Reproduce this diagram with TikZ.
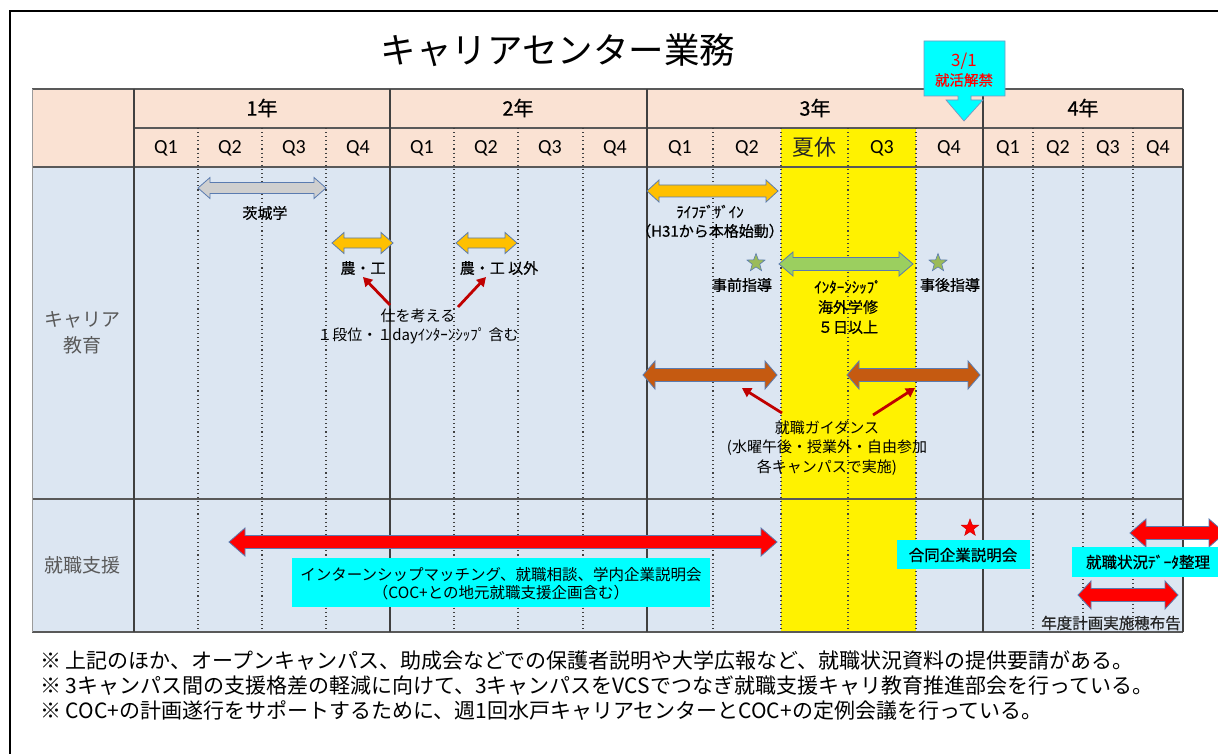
\documentclass[tikz,border=0pt]{standalone}
\usepackage{fontspec}
\setmainfont{Noto Sans CJK JP}
\newfontfamily\calfont{Carlito}
\newfontfamily\jpbold{Noto Sans CJK JP}[FakeBold=0.6]
\usetikzlibrary{shapes.geometric,arrows.meta}
\definecolor{peach}{HTML}{FAE2D3}
\definecolor{paleblue}{HTML}{DCE6F2}
\definecolor{gridc}{HTML}{595959}
\definecolor{dotc}{HTML}{404040}
\definecolor{arrowedge}{HTML}{5A7BB0}
\definecolor{orangeA}{HTML}{FFC000}
\definecolor{greenA}{HTML}{9BCF5F}
\definecolor{brownA}{HTML}{C55A11}
\definecolor{grayA}{HTML}{CFCFCF}
\definecolor{darkred}{HTML}{C00000}
\definecolor{cyanA}{HTML}{00FFFF}
\definecolor{starg}{HTML}{9BBB59}
\definecolor{labelgray}{HTML}{595959}
\newcommand{\blockarr}[7]{\draw[#1] (#2,#4) -- ({#2+#7},{#4-#5}) -- ({#2+#7},{#4-#6}) -- ({#3-#7},{#4-#6}) -- ({#3-#7},{#4-#5}) -- (#3,#4) -- ({#3-#7},{#4+#5}) -- ({#3-#7},{#4+#6}) -- ({#2+#7},{#4+#6}) -- ({#2+#7},{#4+#5}) -- cycle;}
\begin{document}
\begin{tikzpicture}[x=1pt,y=-1pt,
  every node/.style={inner sep=0pt,outer sep=0pt},
  hline/.style={draw=gridc,line width=1.5pt},
  vline/.style={draw=dotc,line width=1.1pt},
  dotline/.style={draw=dotc,line width=1.1pt,dash pattern=on 1.1pt off 3pt},
  blockarrow/.style={draw=arrowedge,line width=0.8pt,line join=miter},
  redarrow/.style={draw=darkred,line width=2.8pt,-{Triangle[length=9pt,width=10pt]}},
  yearlbl/.style={font=\jpbold\fontsize{20}{22}\selectfont},
  qlbl/.style={font=\calfont\fontsize{20}{22}\selectfont},
  body/.style={font=\fontsize{15}{19}\selectfont,align=center},
  bodyb/.style={font=\jpbold\fontsize{15}{19}\selectfont,align=center},
  rowlbl/.style={font=\fontsize{19}{26}\selectfont,text=labelgray,align=center},
  note/.style={font=\fontsize{21}{24}\selectfont,anchor=west},
  cyanbox/.style={fill=cyanA},
  greenstar/.style={star,star points=5,star point ratio=2.4,minimum size=19pt,fill=starg,draw=arrowedge,line width=0.6pt},
  redstar/.style={star,star points=5,star point ratio=2.4,minimum size=18pt,fill=red,draw=red!80!black,line width=0.5pt}]
\useasboundingbox (0,0) rectangle (1218,754);
\clip (0,0) rectangle (1218,754);
\fill[white] (0,0) rectangle (1218,754);
\draw[line width=2pt] (10,11) rectangle (1240,780);
% title
\node[font=\fontsize{35.5}{40}\selectfont] (title) at (558,50) {キャリアセンター業務};
% backgrounds
\fill[peach] (32,89) rectangle (1183,167);
\fill[paleblue] (32,167) rectangle (1183,632);
\fill[yellow] (781,128) rectangle (916,632);
% grid
\foreach \y in {89,167,499,632} \draw[hline] (32,\y) -- (1183,\y);
\draw[hline] (134,128) -- (1183,128);
\foreach \x in {134,390,647,983,1183} \draw[vline] (\x,89) -- (\x,632);
\draw[draw=gridc!60,line width=1pt] (32,89) -- (32,632);
\foreach \x in {198,262,326,454,518,583,713,781,848,916,1033,1083,1133} \draw[dotline] (\x,128) -- (\x,632);
% header labels
\node[yearlbl] (y1) at (262,108) {1年};
\node[yearlbl] (y2) at (518,108) {2年};
\node[yearlbl] (y3) at (815,108) {3年};
\node[yearlbl] (y4) at (1083,108) {4年};
\foreach \x/\t/\n in {166/Q1/a1,230/Q2/a2,294/Q3/a3,358/Q4/a4,422/Q1/b1,486/Q2/b2,550/Q3/b3,615/Q4/b4,680/Q1/c1,747/Q2/c2,882/Q3/c3,949/Q4/c4,1008/Q1/d1,1058/Q2/d2,1108/Q3/d3,1158/Q4/d4}
  \node[qlbl] (q\n) at (\x,148) {\t};
\node[font=\fontsize{22}{24}\selectfont,text=black!85] (summer) at (814,147) {夏休};
% callout 3/1
\draw[fill=cyanA,draw=arrowedge!80,line width=0.7pt] (924,41) -- (1005,41) -- (1005,96) -- (971,96) -- (971,100) -- (983,100) -- (964,121) -- (946,100) -- (958,100) -- (958,96) -- (924,96) -- cycle;
\node[font=\fontsize{17}{19}\selectfont,text=red] (cdate) at (964,61) {3/1};
\node[font=\jpbold\fontsize{14.5}{17}\selectfont,text=red] (cban) at (964,80) {就活解禁};
% row labels
\node[rowlbl] (career) at (82,333) {キャリア\\教育};
\node[rowlbl] (support) at (82,565) {就職支援};
% career row
\blockarr{blockarrow,fill=grayA}{198}{326}{188}{10.5}{5.5}{12}
\node[bodyb] (ibaraki) at (265,213) {茨城学};
\blockarr{blockarrow,fill=orangeA}{332}{393}{243}{10.5}{5}{12}
\node[bodyb] (noko) at (363,268) {農・工};
\blockarr{blockarrow,fill=orangeA}{456}{517}{243}{10.5}{5}{12}
\node[bodyb] (nokoigai) at (499,268) {農・工 以外};
\node[body] (shigoto) at (418,326) {仕を考える\\１段位・１dayｲﾝﾀｰﾝｼｯﾌﾟ 含む};
\coordinate (r1s) at (390,305); \coordinate (r1e) at (363,277);
\coordinate (r2s) at (458,307); \coordinate (r2e) at (486,277);
\draw[redarrow] (r1s) -- (r1e);
\draw[redarrow] (r2s) -- (r2e);
\blockarr{blockarrow,fill=orangeA}{647}{778}{191}{11}{6}{12}
\node[bodyb] (life) at (710,221.5) {ﾗｲﾌﾃﾞｻﾞｲﾝ\\（H31から本格始動）};
\node[greenstar] (star1) at (756,263) {};
\node[bodyb] (jizen) at (742,285) {事前指導};
\node[greenstar] (star2) at (938,263) {};
\node[bodyb] (jigo) at (950,285) {事後指導};
\blockarr{blockarrow,fill=greenA}{779}{913}{264}{12}{6.5}{14}
\node[font=\jpbold\fontsize{15}{20}\selectfont,align=center] (intern) at (848,307) {ｲﾝﾀｰﾝｼｯﾌﾟ\\海外学修\\５日以上};
\blockarr{blockarrow,fill=brownA}{643}{777}{375}{14}{6.5}{12}
\blockarr{blockarrow,fill=brownA}{847}{980}{375}{14}{6.5}{12}
\node[font=\fontsize{15}{19.5}\selectfont,align=center] (guid) at (827,448) {就職ガイダンス\\(水曜午後・授業外・自由参加\\各キャンパスで実施)};
\coordinate (r3s) at (782,413); \coordinate (r3e) at (742,388);
\coordinate (r4s) at (873,415); \coordinate (r4e) at (915,388);
\draw[redarrow] (r3s) -- (r3e);
\draw[redarrow] (r4s) -- (r4e);
% support row
\blockarr{blockarrow,fill=red}{229}{777}{542}{14}{6.5}{16}
\fill[cyanbox] (292,558) rectangle (710,607);
\node[font=\fontsize{15.5}{18}\selectfont,align=center] (matching) at (501,584) {インターンシップマッチング、就職相談、学内企業説明会\\（COC+との地元就職支援企画含む）};
\node[redstar] (star3) at (970,528) {};
\fill[cyanbox] (897,540) rectangle (1030,569);
\node[bodyb,font=\jpbold\fontsize{15.5}{18}\selectfont] (goudou) at (963,555) {合同企業説明会};
\blockarr{blockarrow,fill=red}{1130}{1225}{533}{14}{6.5}{16}
\fill[cyanbox] (1072,547) rectangle (1230,577);
\node[font=\jpbold\fontsize{15.5}{18}\selectfont] (data) at (1148,562) {就職状況ﾃﾞｰﾀ整理};
\blockarr{blockarrow,fill=red}{1078}{1178}{595}{14}{6.5}{13}
\node[font=\jpbold\fontsize{15.5}{18}\selectfont,text=black!85] (nendo) at (1111,623) {年度計画実施穂布告};
% notes
\node[note] (note1) at (40,661) {※ 上記のほか、オープンキャンパス、助成会などでの保護者説明や大学広報など、就職状況資料の提供要請がある。};
\node[note] (note2) at (40,686) {※ 3キャンパス間の支援格差の軽減に向けて、3キャンパスをVCSでつなぎ就職支援キャリ教育推進部会を行っている。};
\node[note] (note3) at (40,711) {※ COC+の計画遂行をサポートするために、週1回水戸キャリアセンターとCOC+の定例会議を行っている。};
\end{tikzpicture}
\end{document}
